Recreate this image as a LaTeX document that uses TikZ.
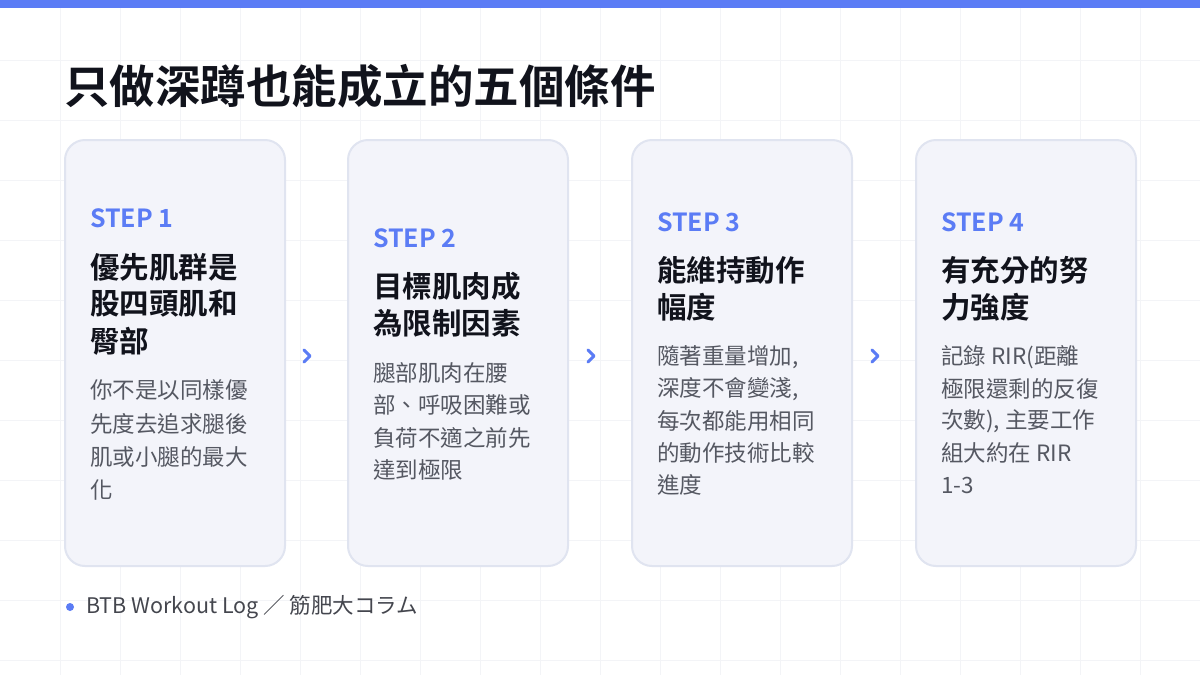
\documentclass[tikz,border=0pt]{standalone}
\usepackage{fontspec}
\usepackage{tikz}
\usetikzlibrary{positioning}
\setmainfont{Noto Sans CJK TC}
\newfontfamily\cjkbold{Noto Sans CJK TC Bold}
\newfontfamily\latinbold{Noto Sans CJK TC Bold}
\definecolor{accent}{RGB}{91,124,245}
\definecolor{cardfill}{RGB}{243,244,250}
\definecolor{cardline}{RGB}{224,228,240}
\definecolor{gridline}{RGB}{243,244,247}
\definecolor{bodygray}{RGB}{85,88,98}
\definecolor{titleink}{RGB}{17,19,28}
\tikzset{
  card/.style={draw=cardline, line width=2pt, fill=cardfill, rounded corners=20pt},
  steplbl/.style={anchor=west, inner sep=0pt, text=accent, font=\latinbold\fontsize{25}{28}\selectfont},
  headlbl/.style={anchor=west, inner sep=0pt, text=titleink, font=\cjkbold\fontsize{29.5}{32}\selectfont},
  bodylbl/.style={anchor=west, inner sep=0pt, text=bodygray, font=\fontsize{22.5}{26}\selectfont},
  chev/.style={draw=accent, line width=3pt, line cap=round, line join=round}
}

\begin{document}
\begin{tikzpicture}[x=1pt,y=-1pt]
	\newcommand \cardwidth{220}
	\newcommand \cardtop{140}
	\newcommand \cardbottom{566}
\useasboundingbox (0,0) rectangle (1200,675);
\fill[white] (0,0) rectangle (1200,675);
%% grid
\foreach \a in {1,...,19}
{
\draw[gridline, line width=0.8pt] (\a*60,8) -- (\a*60,675);
}
\foreach \a in {1,...,11}
{
\draw[gridline, line width=0.8pt] (0,\a*60) -- (1200,\a*60);
}
\fill[accent] (0,0) rectangle (1200,8);

\node[anchor=west, inner sep=0pt, text=titleink, font=\cjkbold\fontsize{45.5}{48}\selectfont] (title) at (64,86) {只做深蹲也能成立的五個條件};

%% cards
\foreach \x/\n in {65/1,348/2,632/3,916/4}
{
\draw[card] (\x,\cardtop) rectangle (\x+\cardwidth,\cardbottom);
}

% step 1
\node[steplbl] (s1) at (90,218) {STEP 1};
\node[headlbl] (h1a) at (90,267) {優先肌群是};
\node[headlbl] (h1b) at (90,304) {股四頭肌和};
\node[headlbl] (h1c) at (90,341) {臀部};
\node[bodylbl] (b1a) at (90,390) {你不是以同樣優};
\node[bodylbl] (b1b) at (90,424) {先度去追求腿後};
\node[bodylbl] (b1c) at (90,457) {肌或小腿的最大};
\node[bodylbl] (b1d) at (90,490) {化};

% step 2
\node[steplbl] (s2) at (373,238) {STEP 2};
\node[headlbl] (h2a) at (373,286) {目標肌肉成};
\node[headlbl] (h2b) at (373,323) {為限制因素};
\node[bodylbl] (b2a) at (373,373) {腿部肌肉在腰};
\node[bodylbl] (b2b) at (373,405) {部、呼吸困難或};
\node[bodylbl] (b2c) at (373,438) {負荷不適之前先};
\node[bodylbl] (b2d) at (373,470) {達到極限};

% step 3
\node[steplbl] (s3) at (657,222) {STEP 3};
\node[headlbl] (h3a) at (657,270) {能維持動作};
\node[headlbl] (h3b) at (657,307) {幅度};
\node[bodylbl] (b3a) at (657,357) {隨著重量增加,};
\node[bodylbl] (b3b) at (657,389) {深度不會變淺,};
\node[bodylbl] (b3c) at (657,421) {每次都能用相同};
\node[bodylbl] (b3d) at (657,453) {的動作技術比較};
\node[bodylbl] (b3e) at (657,485) {進度};

% step 4
\node[steplbl] (s4) at (941,222) {STEP 4};
\node[headlbl] (h4a) at (941,270) {有充分的努};
\node[headlbl] (h4b) at (941,307) {力強度};
\node[bodylbl] (b4a) at (941,357) {記錄 RIR(距離};
\node[bodylbl] (b4b) at (941,389) {極限還剩的反復};
\node[bodylbl] (b4c) at (941,421) {次數), 主要工作};
\node[bodylbl] (b4d) at (941,453) {組大約在 RIR};
\node[bodylbl] (b4e) at (941,485) {1-3};

%% chevrons
\foreach \cx in {307,591,875}
{
\draw[chev] (\cx-3,350) -- (\cx+3,356) -- (\cx-3,362);
}

%% footer
\fill[accent] (70,607) circle (4pt);
\node[anchor=west, inner sep=0pt, text=bodygray!80!black, font=\fontsize{21.5}{24}\selectfont] (foot) at (86,607) {BTB Workout Log ／ 筋肥大コラム};
\end{tikzpicture}
\end{document}
